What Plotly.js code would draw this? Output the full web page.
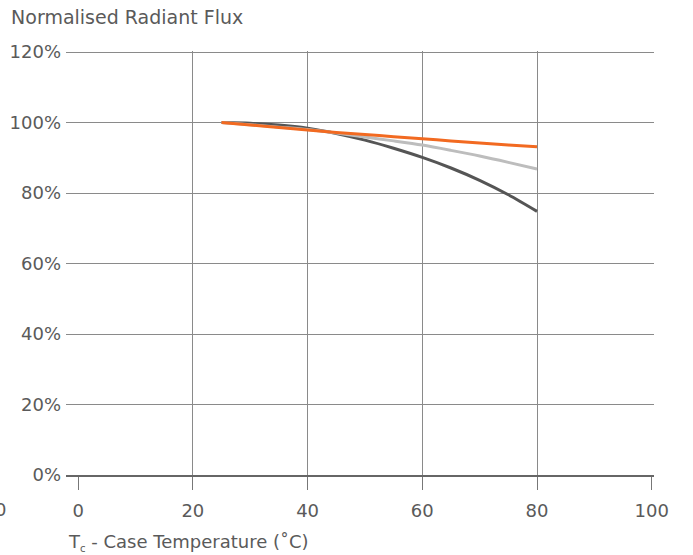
<!DOCTYPE html>
<html>
<head>
<meta charset="utf-8">
<script src="https://cdn.plot.ly/plotly-3.0.1.min.js"></script>
<style>html,body{margin:0;padding:0;background:#fff;}#chart{width:693px;height:555px;}</style>
</head>
<body>
<div id="chart"></div>
<script>
// Case temperature (°C)
var temps = [25, 30, 35, 40, 45, 50, 55, 60, 65, 70, 75, 80];
// Normalised radiant flux (%)
var fluxDark   = [100, 99.8, 99.3, 98.4, 96.9, 95.0, 92.7, 90.1, 87.1, 83.6, 79.5, 74.8];
var fluxLight  = [100, 99.4, 98.7, 98.0, 97.0, 95.9, 94.8, 93.6, 92.1, 90.5, 88.7, 86.8];
var fluxOrange = [100, 99.3, 98.6, 97.9, 97.2, 96.6, 96.0, 95.4, 94.8, 94.2, 93.6, 93.1];

var xTicks = [0, 20, 40, 60, 80, 100];
var xGrid = [20, 40, 60, 80];
var yTicks = [0, 20, 40, 60, 80, 100, 120];
var yTickText = ['0%', '20%', '40%', '60%', '80%', '100%', '120%'];

var FONT = 'DejaVu Sans, Arial, sans-serif';
var TXT = '#5a5a5a';
var GRID = '#8a8a8a';

var traces = [
  {x: [], y: [], xaxis: 'x2', yaxis: 'y', mode: 'lines', hoverinfo: 'skip'},
  {x: temps, y: fluxDark, mode: 'lines', line: {color: '#555555', width: 3, shape: 'spline', smoothing: 0.8}, hoverinfo: 'skip'},
  {x: temps, y: fluxLight, mode: 'lines', line: {color: '#bdbdbd', width: 3, shape: 'spline', smoothing: 0.8}, hoverinfo: 'skip'},
  {x: temps, y: fluxOrange, mode: 'lines', line: {color: '#f26a21', width: 3, shape: 'spline', smoothing: 0.8}, hoverinfo: 'skip'}
];

var xRange = [-2.12, 100.4];

var layout = {
  width: 693, height: 555,
  margin: {l: 66, r: 39, t: 51, b: 80, pad: 0},
  paper_bgcolor: '#fff', plot_bgcolor: '#fff',
  showlegend: false,
  font: {family: FONT, size: 18, color: TXT},
  title: {text: 'Normalised Radiant Flux', font: {family: FONT, size: 19, color: TXT},
          xref: 'container', x: 0.016, xanchor: 'left', yref: 'container', y: 0.968, yanchor: 'middle'},
  xaxis: {
    range: xRange, fixedrange: true,
    tickmode: 'array', tickvals: xTicks,
    ticks: 'outside', ticklen: 13, tickwidth: 1, tickcolor: '#777',
    showgrid: false, zeroline: false,
    showline: true, linecolor: '#666', linewidth: 1.5,
    tickfont: {family: FONT, size: 18, color: TXT},
    ticklabelstandoff: 6
  },
  xaxis2: {
    range: xRange, overlaying: 'x', fixedrange: true,
    tickmode: 'array', tickvals: xGrid,
    showticklabels: false, ticks: '',
    showgrid: true, gridcolor: GRID, gridwidth: 1,
    zeroline: false, showline: false
  },
  yaxis: {
    range: [0, 120.3], fixedrange: true,
    tickmode: 'array', tickvals: yTicks, ticktext: yTickText,
    showgrid: true, gridcolor: GRID, gridwidth: 1,
    zeroline: false, showline: false, ticks: '',
    tickfont: {family: FONT, size: 18, color: TXT},
    ticklabelstandoff: 4
  },
  annotations: [
    {xref: 'paper', yref: 'paper', x: 0, y: 0, xanchor: 'left', yanchor: 'middle', yshift: -67,
     text: 'T<sub><span style="font-size:10px">c</span></sub> - Case Temperature (˚C)', showarrow: false,
     font: {family: FONT, size: 18, color: TXT}},
    {xref: 'paper', yref: 'paper', x: -0.112, y: 0, xanchor: 'center', yanchor: 'middle', yshift: -34,
     text: '0', showarrow: false, font: {family: FONT, size: 18, color: TXT}}
  ]
};

Plotly.newPlot('chart', traces, layout, {staticPlot: true, displayModeBar: false});
</script>
</body>
</html>
